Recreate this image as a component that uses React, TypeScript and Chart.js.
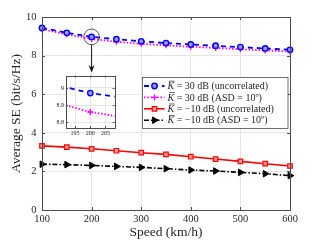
import React, { useEffect, useRef } from 'react';
import { Chart, registerables } from 'chart.js';
import { drawPoint } from 'chart.js/helpers';

Chart.register(...registerables);

const SPEED = [100, 150, 200, 250, 300, 350, 400, 450, 500, 550, 600];
const SE_K30_UNCORR = [9.43, 9.18, 8.97, 8.85, 8.74, 8.65, 8.58, 8.51, 8.44, 8.37, 8.30];
const SE_K30_ASD = [9.37, 9.10, 8.86, 8.72, 8.61, 8.53, 8.46, 8.40, 8.33, 8.27, 8.21];
const SE_KM10_UNCORR = [3.32, 3.26, 3.17, 3.07, 2.97, 2.88, 2.76, 2.64, 2.52, 2.40, 2.28];
const SE_KM10_ASD = [2.37, 2.35, 2.31, 2.26, 2.21, 2.14, 2.07, 2.02, 1.95, 1.88, 1.78];

const X_TICKS = [100, 200, 300, 400, 500, 600];
const Y_TICKS = [0, 2, 4, 6, 8, 10];
const INSET_X_TICKS = [195, 200, 205];
const INSET_Y_TICKS = [8.8, 8.9, 9];
const ZOOM_SPEED = 200;

const LEGEND_TEXTS = [
  ' = 30 dB (uncorrelated)',
  ' = 30 dB (ASD = 10º)',
  ' = \u221210 dB (uncorrelated)',
  ' = \u221210 dB (ASD = 10º)',
];

const FONT = "'Liberation Serif', 'DejaVu Serif', serif";
const TXT = '#262626';
const GRID = '#e6e6e6';
const AXIS = '#4d4d4d';

const W = 321;
const H = 241;
const INSET = { left: 50, top: 70, width: 70, height: 72 };
const INSET_AREA_TOP = 73;

const toPts = (ys: number[]) => SPEED.map((x, i) => ({ x, y: ys[i] }));

function makeDatasets() {
  return [
    {
      label: 'K30 uncorrelated',
      data: toPts(SE_K30_UNCORR),
      borderColor: '#0000ff',
      backgroundColor: '#9a9aff',
      borderWidth: 1.8,
      borderDash: [5, 4],
      pointStyle: 'circle',
      pointRadius: 2.7,
      pointBorderWidth: 1.4,
      pointBackgroundColor: '#9a9aff',
      pointBorderColor: '#0000ff',
      pointRotation: 0,
      clip: false as any,
    },
    {
      label: 'K30 ASD',
      data: toPts(SE_K30_ASD),
      borderColor: '#ff00ff',
      backgroundColor: '#ff00ff',
      borderWidth: 1.8,
      borderDash: [1.5, 1.8],
      pointStyle: 'cross',
      pointRadius: 3,
      pointBorderWidth: 1.4,
      pointBackgroundColor: '#ff00ff',
      pointBorderColor: '#ff00ff',
      pointRotation: 0,
      clip: false as any,
    },
    {
      label: 'K-10 uncorrelated',
      data: toPts(SE_KM10_UNCORR),
      borderColor: '#ff0000',
      backgroundColor: '#ff9a9a',
      borderWidth: 1.6,
      borderDash: [],
      pointStyle: 'rect',
      pointRadius: 3.2,
      pointBorderWidth: 1.2,
      pointBackgroundColor: '#ff9a9a',
      pointBorderColor: '#ff0000',
      pointRotation: 0,
      clip: false as any,
    },
    {
      label: 'K-10 ASD',
      data: toPts(SE_KM10_ASD),
      borderColor: '#000000',
      backgroundColor: '#000000',
      borderWidth: 1.6,
      borderDash: [5, 2, 1.5, 2],
      pointStyle: 'triangle',
      pointRadius: 3.8,
      pointBorderWidth: 1,
      pointBackgroundColor: '#000000',
      pointBorderColor: '#000000',
      pointRotation: 90,
      clip: false as any,
    },
  ];
}

const frameAndTicks = (tickLen: number) => ({
  id: 'frame',
  beforeDraw(chart: any) {
    const { ctx, chartArea: a } = chart;
    ctx.save();
    ctx.fillStyle = '#ffffff';
    ctx.fillRect(a.left, a.top, a.right - a.left, a.bottom - a.top);
    ctx.restore();
  },
  afterDatasetsDraw(chart: any) {
    const { ctx, chartArea: a, scales } = chart;
    ctx.save();
    ctx.strokeStyle = AXIS;
    ctx.lineWidth = 1;
    ctx.setLineDash([]);
    ctx.beginPath();
    scales.x.ticks.forEach((t: any) => {
      const px = Math.round(scales.x.getPixelForValue(t.value)) + 0.5;
      ctx.moveTo(px, a.bottom);
      ctx.lineTo(px, a.bottom - tickLen);
      ctx.moveTo(px, a.top);
      ctx.lineTo(px, a.top + tickLen);
    });
    scales.y.ticks.forEach((t: any) => {
      const py = Math.round(scales.y.getPixelForValue(t.value)) + 0.5;
      ctx.moveTo(a.left, py);
      ctx.lineTo(a.left + tickLen, py);
      ctx.moveTo(a.right, py);
      ctx.lineTo(a.right - tickLen, py);
    });
    ctx.stroke();
    ctx.strokeRect(Math.round(a.left) + 0.5, Math.round(a.top) + 0.5, Math.round(a.right - a.left), Math.round(a.bottom - a.top));
    ctx.restore();
  },
});

const zoomMarkPlugin = {
  id: 'zoomMark',
  afterDatasetsDraw(chart: any) {
    const { ctx, scales } = chart;
    const idx = SPEED.indexOf(ZOOM_SPEED);
    const cx = scales.x.getPixelForValue(ZOOM_SPEED);
    const cy = scales.y.getPixelForValue(SE_K30_UNCORR[idx]);
    const r = 7.8;
    ctx.save();
    ctx.setLineDash([]);
    ctx.strokeStyle = '#333333';
    ctx.lineWidth = 0.8;
    ctx.beginPath();
    ctx.arc(cx, cy, r, 0, Math.PI * 2);
    ctx.stroke();
    ctx.strokeStyle = '#111111';
    ctx.lineWidth = 1;
    ctx.beginPath();
    ctx.moveTo(cx, cy + r);
    ctx.lineTo(cx, INSET_AREA_TOP - 2);
    ctx.stroke();
    ctx.fillStyle = '#111111';
    ctx.beginPath();
    ctx.moveTo(cx - 3, INSET_AREA_TOP - 8);
    ctx.lineTo(cx, INSET_AREA_TOP - 5.5);
    ctx.lineTo(cx + 3, INSET_AREA_TOP - 8);
    ctx.lineTo(cx, INSET_AREA_TOP - 0.5);
    ctx.closePath();
    ctx.fill();
    ctx.restore();
  },
};

const legendPlugin = {
  id: 'insideLegend',
  afterDraw(chart: any) {
    const { ctx, chartArea: a } = chart;
    const bx = 142.5;
    const by = 77.5;
    const bw = a.right - 2 - bx;
    const bh = 51;
    ctx.save();
    ctx.setLineDash([]);
    ctx.fillStyle = '#ffffff';
    ctx.fillRect(bx, by, bw, bh);
    ctx.strokeStyle = AXIS;
    ctx.lineWidth = 0.8;
    ctx.strokeRect(bx, by, bw, bh);
    chart.data.datasets.forEach((ds: any, i: number) => {
      const y = by + 8.5 + i * 11.4;
      ctx.save();
      ctx.strokeStyle = ds.borderColor;
      ctx.lineWidth = ds.borderWidth;
      ctx.setLineDash(ds.borderDash || []);
      ctx.beginPath();
      ctx.moveTo(bx + 1.5, y);
      ctx.lineTo(bx + 22, y);
      ctx.stroke();
      ctx.setLineDash([]);
      ctx.fillStyle = ds.pointBackgroundColor;
      ctx.strokeStyle = ds.pointBorderColor;
      ctx.lineWidth = ds.pointBorderWidth;
      drawPoint(ctx, {
        pointStyle: ds.pointStyle,
        radius: ds.pointRadius,
        rotation: ds.pointRotation || 0,
        borderWidth: ds.pointBorderWidth,
      } as any, bx + 12, y);
      ctx.restore();
      const tx = bx + 25;
      ctx.fillStyle = TXT;
      ctx.textBaseline = 'middle';
      ctx.textAlign = 'left';
      ctx.font = `italic 10px ${FONT}`;
      ctx.fillText('K', tx, y + 0.5);
      const kw = ctx.measureText('K').width;
      ctx.strokeStyle = TXT;
      ctx.lineWidth = 0.7;
      ctx.beginPath();
      ctx.moveTo(tx + 1.5, y - 4.8);
      ctx.lineTo(tx + kw + 0.5, y - 4.8);
      ctx.stroke();
      ctx.font = `10px ${FONT}`;
      ctx.fillText(LEGEND_TEXTS[i], tx + kw, y + 0.5);
    });
    ctx.restore();
  },
};

export default function App() {
  const mainRef = useRef<HTMLCanvasElement>(null);
  const insetRef = useRef<HTMLCanvasElement>(null);

  useEffect(() => {
    const main = new Chart(mainRef.current as HTMLCanvasElement, {
      type: 'line',
      data: { datasets: makeDatasets() as any },
      options: {
        responsive: false,
        animation: false,
        events: [],
        layout: { padding: { top: 17, right: 31, left: 0, bottom: 0 } },
        plugins: { legend: { display: false }, tooltip: { enabled: false } },
        scales: {
          x: {
            type: 'linear',
            min: 100,
            max: 600,
            afterFit: (s: any) => { s.height = 31; },
            afterBuildTicks: (s: any) => { s.ticks = X_TICKS.map((v) => ({ value: v })); },
            grid: { color: GRID, drawTicks: false, lineWidth: 1 },
            border: { display: false },
            ticks: { font: { family: FONT, size: 10.5 }, color: TXT, padding: 3, maxRotation: 0, autoSkip: false },
            title: { display: true, text: 'Speed (km/h)', font: { family: FONT, size: 13.5 }, color: TXT, padding: { top: 0, bottom: 0 } },
          },
          y: {
            type: 'linear',
            min: 0,
            max: 10,
            afterFit: (s: any) => { s.width = 42; },
            afterBuildTicks: (s: any) => { s.ticks = Y_TICKS.map((v) => ({ value: v })); },
            grid: { color: GRID, drawTicks: false, lineWidth: 1 },
            border: { display: false },
            ticks: { font: { family: FONT, size: 10.5 }, color: TXT, padding: 5.5, autoSkip: false },
            title: { display: true, text: 'Average SE (bit/s/Hz)', font: { family: FONT, size: 13.5 }, color: TXT, padding: { top: 8.5, bottom: 0 } },
          },
        },
      },
      plugins: [frameAndTicks(3), zoomMarkPlugin, legendPlugin],
    });

    const insetDs = makeDatasets().slice(0, 2).map((d) => ({ ...d, clip: undefined as any }));
    const inset = new Chart(insetRef.current as HTMLCanvasElement, {
      type: 'line',
      data: { datasets: insetDs as any },
      options: {
        responsive: false,
        animation: false,
        events: [],
        layout: { padding: { top: INSET_AREA_TOP - INSET.top, right: 4, left: 0, bottom: 0 } },
        plugins: { legend: { display: false }, tooltip: { enabled: false } },
        scales: {
          x: {
            type: 'linear',
            min: 192,
            max: 208,
            afterFit: (s: any) => { s.height = 14; },
            afterBuildTicks: (s: any) => { s.ticks = INSET_X_TICKS.map((v) => ({ value: v })); },
            grid: { color: GRID, drawTicks: false },
            border: { display: false },
            ticks: { font: { family: FONT, size: 6 }, color: TXT, padding: 2, maxRotation: 0, autoSkip: false },
          },
          y: {
            type: 'linear',
            min: 8.767,
            max: 9.072,
            afterFit: (s: any) => { s.width = 16; },
            afterBuildTicks: (s: any) => { s.ticks = INSET_Y_TICKS.map((v) => ({ value: v })); },
            grid: { color: GRID, drawTicks: false },
            border: { display: false },
            ticks: {
              font: { family: FONT, size: 6 },
              color: TXT,
              padding: 2,
              autoSkip: false,
              callback: (v: any) => String(Number(Number(v).toFixed(1))),
            },
          },
        },
      },
      plugins: [frameAndTicks(2)],
    });

    return () => {
      main.destroy();
      inset.destroy();
    };
  }, []);

  return (
    <div style={{ position: 'fixed', left: 0, top: 0, width: W, height: H, background: '#ffffff' }}>
      <canvas ref={mainRef} width={W} height={H} style={{ position: 'absolute', left: 0, top: 0, width: W, height: H }} />
      <canvas
        ref={insetRef}
        width={INSET.width}
        height={INSET.height}
        style={{ position: 'absolute', left: INSET.left, top: INSET.top, width: INSET.width, height: INSET.height }}
      />
    </div>
  );
}
